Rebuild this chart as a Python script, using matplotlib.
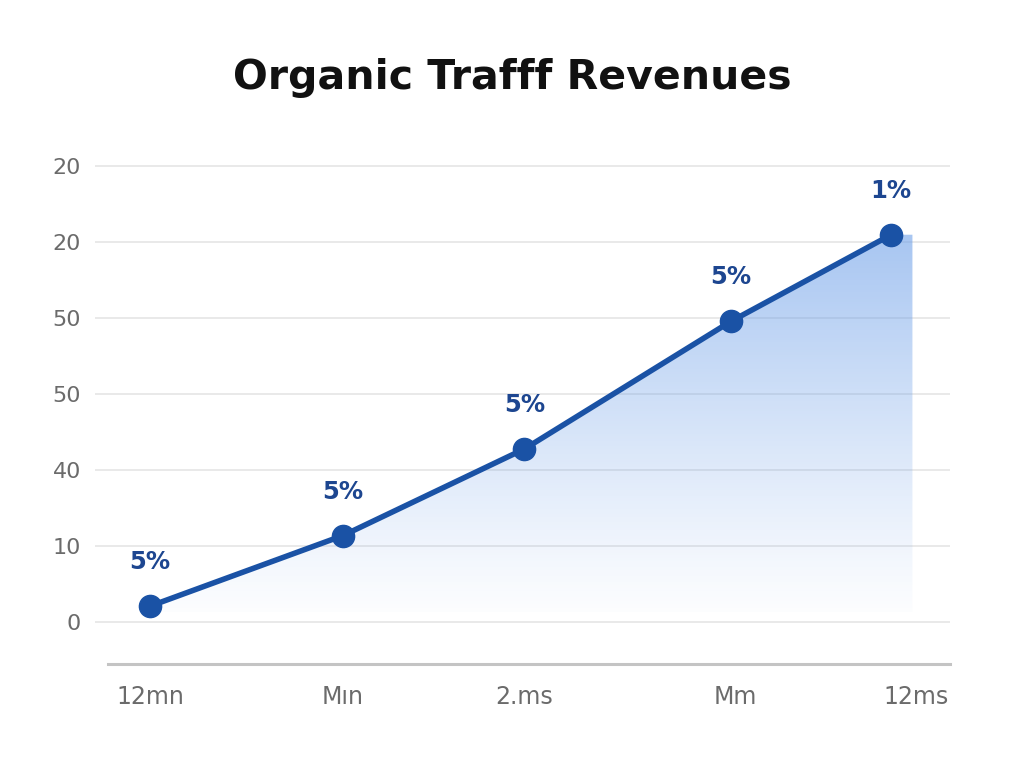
import matplotlib.pyplot as plt
import numpy as np
from matplotlib.patches import Polygon

# data
periods = ["12mn", "Mın", "2.ms", "Mm", "12ms"]
tick_pos = [0, 1.0, 1.94, 3.03, 3.97]
point_x = [0, 1.0, 1.94, 3.01, 3.84]
revenue = [2.1, 11.4, 22.8, 39.6, 51.0]
pct_labels = ["5%", "5%", "5%", "5%", "1%"]
y_ticks = [0, 10, 20, 30, 40, 50, 60]
y_tick_labels = ["0", "10", "40", "50", "50", "20", "20"]

line_col = "#1a52a5"
text_col = "#1d4690"

fig = plt.figure(figsize=(10.24, 7.68), dpi=100)
ax = fig.add_axes([0.0928, 0.134, 0.835, 0.684])
xmin, xmax = -0.285, 4.145
ymin, ymax = -5.66, 63.5
ax.set_xlim(xmin, xmax)
ax.set_ylim(ymin, ymax)

# grid
for yt in y_ticks:
    ax.axhline(yt, color="#e3e3e3", lw=1.1, zorder=0)
ax.plot([-0.218, xmax], [ymin + 0.15, ymin + 0.15], color="#c4c4c4", lw=2.2,
        clip_on=False, zorder=1)

# gradient fill under the line
fill_right = 3.95
base = 1.3
verts = list(zip(point_x, revenue)) + [(fill_right, revenue[-1]), (fill_right, base), (point_x[0], base)]
poly = Polygon(verts, closed=True, facecolor="none", edgecolor="none")
ax.add_patch(poly)
grad = np.linspace(0, 1, 256).reshape(-1, 1)
rgba = np.zeros((256, 1, 4))
rgba[..., 0] = 0.42
rgba[..., 1] = 0.62
rgba[..., 2] = 0.91
rgba[..., 3] = 0.02 + 0.58 * grad ** 1.1
img = ax.imshow(rgba, extent=[point_x[0], fill_right, base, revenue[-1] + 0.5],
                origin="lower", aspect="auto", zorder=1, interpolation="bilinear")
img.set_clip_path(poly)

ax.plot(point_x, revenue, color=line_col, lw=4, zorder=3,
        marker="o", markersize=16, markerfacecolor=line_col, markeredgecolor=line_col)

for x, y, t in zip(point_x, revenue, pct_labels):
    ax.annotate(t, (x, y), xytext=(0, 23), textcoords="offset points",
                ha="center", va="bottom", fontsize=17.5, fontweight="bold", color=text_col)

ax.set_yticks(y_ticks)
ax.set_yticklabels(y_tick_labels, fontsize=16, color="#6b6b6b")
ax.set_xticks(tick_pos)
ax.set_xticklabels(periods, fontsize=17, color="#6b6b6b")
ax.tick_params(axis="y", length=0, pad=10)
ax.tick_params(axis="x", length=0, pad=14)
for s in ax.spines.values():
    s.set_visible(False)

fig.text(0.5, 0.898, "Organic Trafff Revenues", ha="center", va="center",
         fontsize=29.5, fontweight="heavy", color="#111111")

fig.savefig("out.png", dpi=100, facecolor="white")
